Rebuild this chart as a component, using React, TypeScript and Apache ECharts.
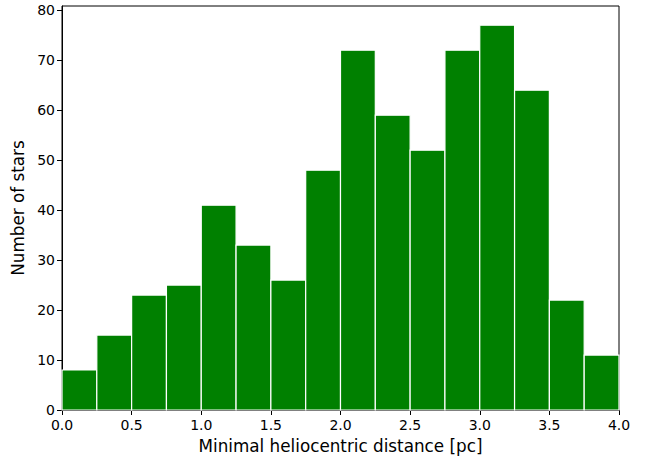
import React, { useEffect, useRef } from "react";
import * as echarts from "echarts";

const binStarts = [0.0, 0.25, 0.5, 0.75, 1.0, 1.25, 1.5, 1.75, 2.0, 2.25, 2.5, 2.75, 3.0, 3.25, 3.5, 3.75];
const binWidth = 0.25;
const counts = [8, 15, 23, 25, 41, 33, 26, 48, 72, 59, 52, 72, 77, 64, 22, 11];
const xLabel = "Minimal heliocentric distance [pc]";
const yLabel = "Number of stars";

export default function App() {
  const ref = useRef<HTMLDivElement>(null);
  useEffect(() => {
    if (!ref.current) return;
    const chart = echarts.init(ref.current, null, { renderer: "svg" });
    const font = "DejaVu Sans";
    const data = binStarts.map((s, i) => [s, s + binWidth, counts[i]]);
    chart.setOption({
      animation: false,
      grid: {
        left: 62,
        right: 33,
        top: 6,
        bottom: 48,
        show: true,
        borderColor: "#000",
        borderWidth: 1,
        backgroundColor: "transparent",
      },
      xAxis: {
        type: "value",
        min: 0,
        max: 4,
        interval: 0.5,
        name: xLabel,
        nameLocation: "middle",
        nameGap: 27,
        nameTextStyle: { fontFamily: font, fontSize: 16.8, color: "#000" },
        axisLine: { show: true, lineStyle: { color: "#000", width: 1 } },
        axisTick: { show: true, length: 5, inside: false, lineStyle: { color: "#000" } },
        axisLabel: {
          fontFamily: font,
          fontSize: 14,
          color: "#000",
          margin: 8,
          formatter: (v: number) => v.toFixed(1),
        },
        splitLine: { show: false },
      },
      yAxis: {
        type: "value",
        min: 0,
        max: 80.85,
        interval: 10,
        name: yLabel,
        nameLocation: "middle",
        nameGap: 34,
        nameRotate: 90,
        nameTextStyle: { fontFamily: font, fontSize: 16.8, color: "#000" },
        axisLine: { show: true, lineStyle: { color: "#000", width: 1 } },
        axisTick: { show: true, length: 5, inside: false, lineStyle: { color: "#000" } },
        axisLabel: {
          fontFamily: font,
          fontSize: 14,
          color: "#000",
          margin: 7,
          showMaxLabel: false,
          formatter: (v: number) => (Math.abs(v % 10) < 1e-6 ? String(v) : ""),
        },
        splitLine: { show: false },
      },
      series: [
        {
          type: "custom",
          data,
          encode: { x: [0, 1], y: 2 },
          renderItem: (params: any, api: any) => {
            const p0 = api.coord([api.value(0), api.value(2)]);
            const p1 = api.coord([api.value(1), 0]);
            return {
              type: "rect",
              shape: { x: p0[0], y: p0[1], width: p1[0] - p0[0], height: p1[1] - p0[1] },
              style: { fill: "#008000", stroke: "#ffffff", lineWidth: 1.2 },
            };
          },
        },
      ],
    });
    return () => chart.dispose();
  }, []);
  return <div ref={ref} style={{ width: 652, height: 459, position: "absolute", left: 0, top: 0, background: "#fff" }} />;
}
